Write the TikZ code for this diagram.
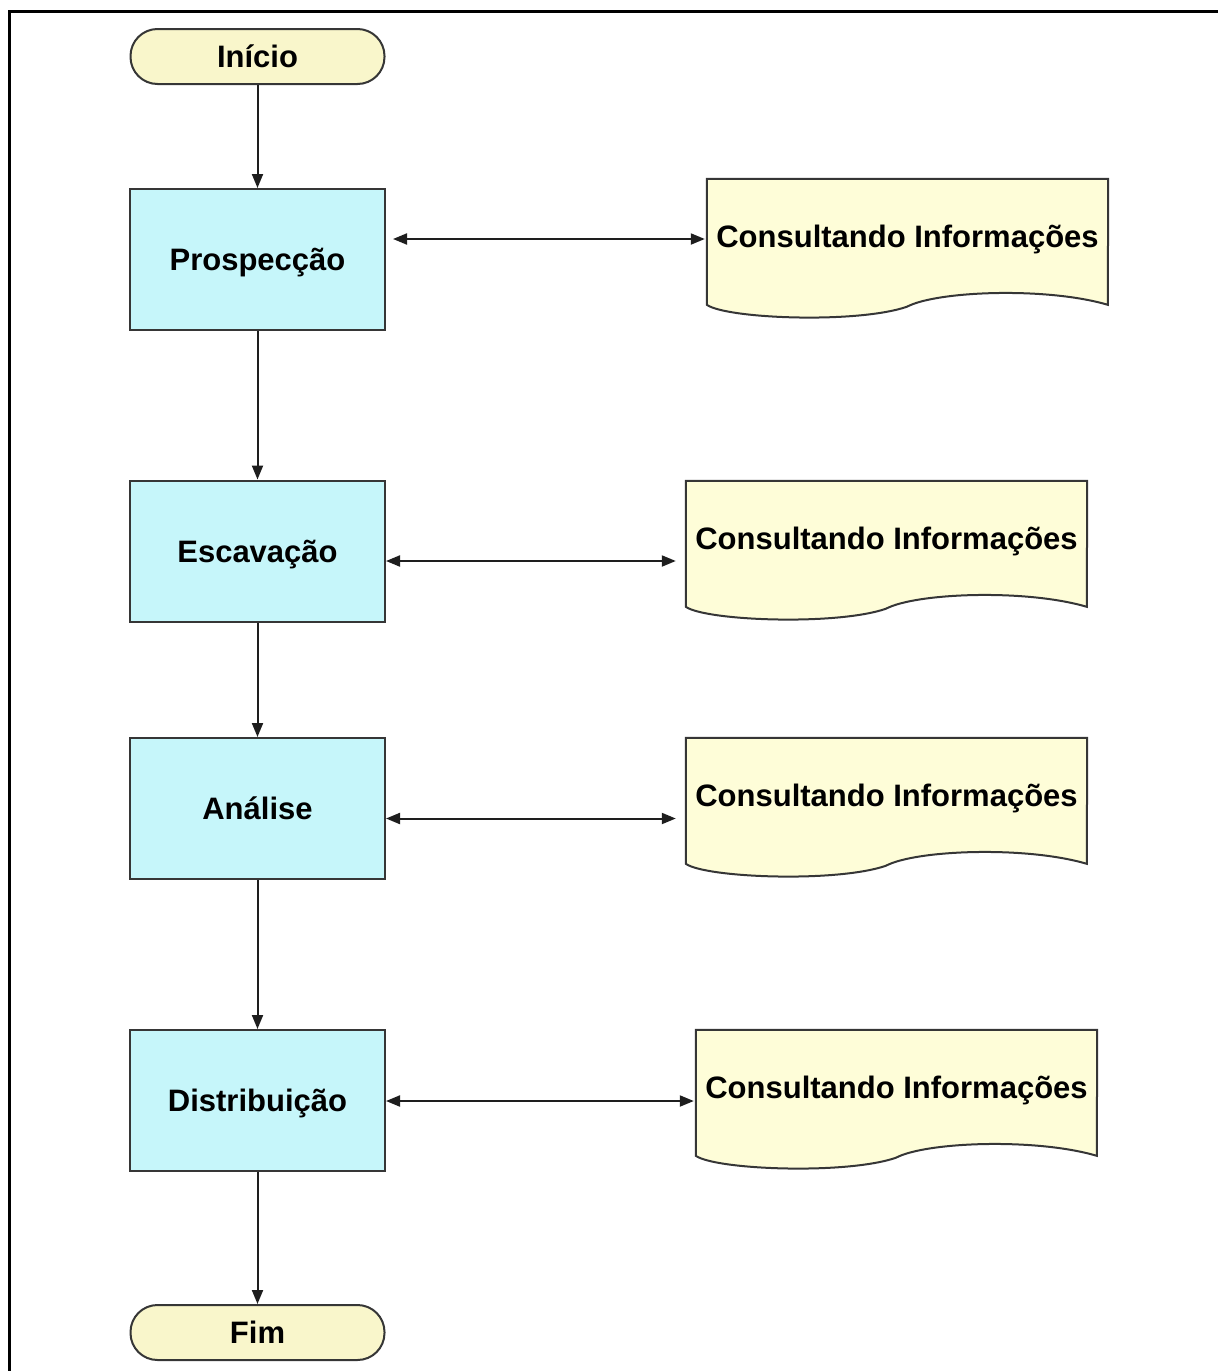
\documentclass[tikz,border=0pt]{standalone}
\usepackage{fontspec}
\setmainfont{Liberation Sans}
\usetikzlibrary{arrows.meta,calc}

\definecolor{termfill}{HTML}{F9F6CB}
\definecolor{stepfill}{HTML}{C6F6FA}
\definecolor{docfill}{HTML}{FEFDD8}
\definecolor{edge}{HTML}{363636}
\definecolor{wire}{HTML}{1E1E1E}

% document symbol: flat top, wavy bottom, drawn from the node's corners
\newcommand\docoutline[1]{%
  \filldraw[docline]
    (#1.north west) -- (#1.north east) -- ($(#1.north west)+(401,126)$)
    .. controls ($(#1.north west)+(340,108)$) and ($(#1.north west)+(230,112)$) .. ($(#1.north west)+(200,128)$)
    .. controls ($(#1.north west)+(150,145)$) and ($(#1.north west)+(20,140)$) .. ($(#1.north west)+(0,126)$)
    -- cycle;}

\begin{document}
\begin{tikzpicture}[x=1pt,y=-1pt,
  every node/.style={font=\fontsize{31}{36}\selectfont\bfseries, inner sep=0pt},
  terminal/.style={draw=edge, line width=2pt, fill=termfill, rounded corners=27pt,
    minimum width=254pt, minimum height=55pt, text height=22pt, text depth=0pt},
  stepbox/.style={draw=edge, line width=2pt, fill=stepfill,
    minimum width=255pt, minimum height=141pt, text height=22pt, text depth=0pt},
  docbox/.style={minimum width=401pt, text height=68pt, text depth=73pt},
  docline/.style={draw=edge, line width=2pt, fill=docfill},
  flow/.style={draw=wire, line width=2pt, -{Triangle[length=14pt,width=11pt]}},
  biarrow/.style={draw=wire, line width=2pt, {Triangle[length=14pt,width=11pt]}-{Triangle[length=14pt,width=11pt]}}
]
\useasboundingbox (0,0) rectangle (1218,1371);

% frame
\draw[line width=3pt] (9,1371) -- (9,11) -- (1218,11);

% main flow
\node[terminal] (ini) at (257.5,56.5) {Início};
\node[stepbox] (p) at (257.5,259.5) {Prospecção};
\node[stepbox] (e) at (257.5,551) {Escavação};
\node[stepbox] (a) at (257.5,808.5) {Análise};
\node[stepbox] (dist) at (257.5,1100.5) {Distribuição};
\node[terminal] (fim) at (257.5,1332.5) {Fim};

% documents
\node[docbox] (d1) at (907.5,249.5) {};
\node[docbox] (d2) at (886.5,551.5) {};
\node[docbox] (d3) at (886.5,808.5) {};
\node[docbox] (d4) at (896.5,1100.5) {};
\docoutline{d1}\docoutline{d2}\docoutline{d3}\docoutline{d4}
\node[docbox] at (d1) {Consultando Informações};
\node[docbox] at (d2) {Consultando Informações};
\node[docbox] at (d3) {Consultando Informações};
\node[docbox] at (d4) {Consultando Informações};

% vertical connectors
\draw[flow] (ini.south) -- (p.north);
\draw[flow] (p.south) -- (e.north);
\draw[flow] (e.south) -- (a.north);
\draw[flow] (a.south) -- (dist.north);
\draw[flow] (dist.south) -- (fim.north);

% horizontal two-way connectors
\draw[biarrow] ([xshift=7pt,yshift=20.5pt]p.east) -- ([xshift=-2pt,yshift=10.5pt]d1.west);
\draw[biarrow] ([yshift=-10pt]e.east) -- ([xshift=-10pt,yshift=-9.5pt]d2.west);
\draw[biarrow] ([yshift=-10pt]a.east) -- ([xshift=-10pt,yshift=-10pt]d3.west);
\draw[biarrow] ([yshift=-0.5pt]dist.east) -- ([xshift=-2pt,yshift=-0.5pt]d4.west);
\end{tikzpicture}
\end{document}
